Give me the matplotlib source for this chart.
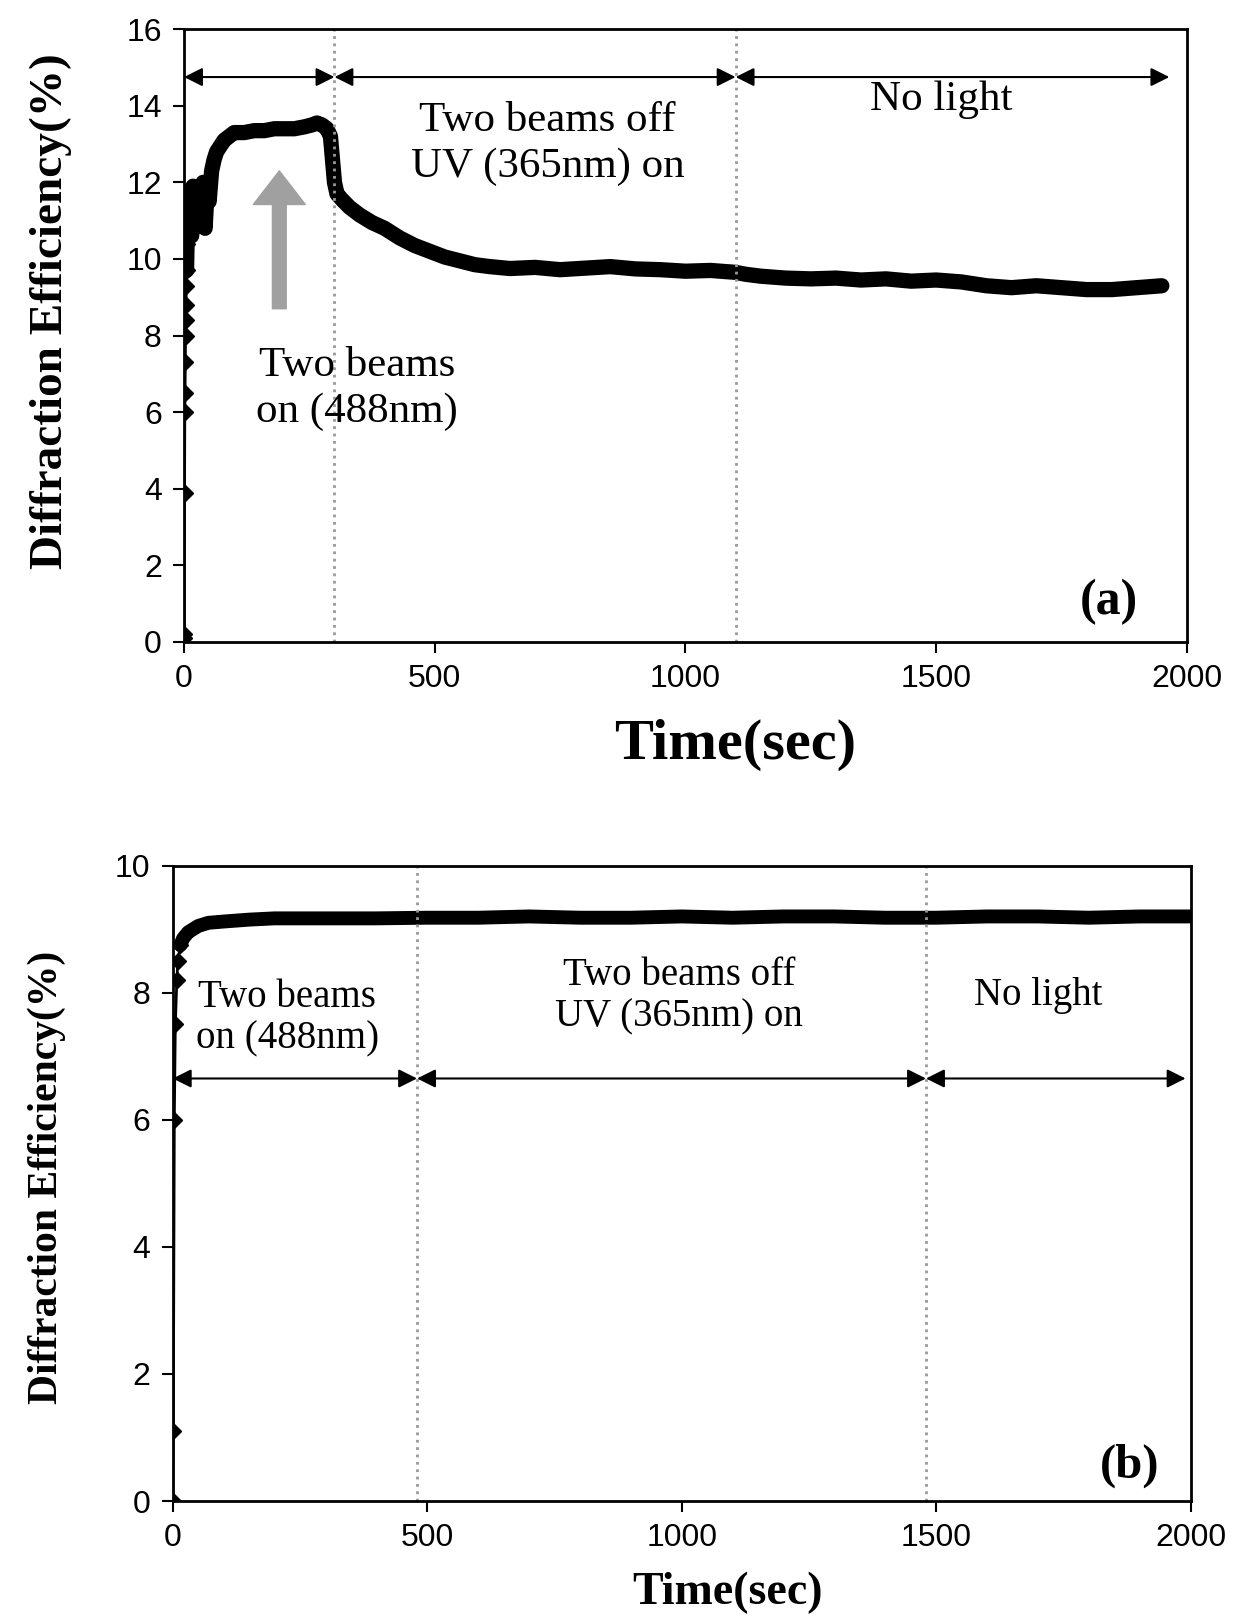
import matplotlib
matplotlib.use("Agg")
import matplotlib.pyplot as plt

# panel (a) data
t_a = [0, 0.5, 1, 1.5, 2, 2.5, 3, 3.5, 4, 4.5, 5, 6, 7, 8, 10, 12, 15, 18, 20, 23, 26, 30,
       34, 38, 42, 46, 50, 55, 60, 65, 70, 80, 90, 100, 120, 140, 160, 180, 200, 220, 240,
       255, 265, 275, 285, 292, 296, 300, 305, 315, 330, 350, 375, 400, 430, 460, 490, 520,
       550, 580, 610, 650, 700, 750, 800, 850, 900, 950, 1000, 1050, 1100, 1120, 1150, 1200,
       1250, 1300, 1350, 1400, 1450, 1500, 1550, 1600, 1650, 1700, 1750, 1800, 1850, 1900, 1950]
de_a = [0.1, 0.2, 3.9, 6.0, 6.5, 7.3, 8.0, 8.4, 8.8, 9.3, 9.7, 10.4, 10.9, 11.5, 11.0, 11.8,
        10.6, 11.9, 10.8, 11.6, 10.9, 11.9, 11.1, 12.0, 10.8, 11.8, 11.5, 12.3, 12.6, 12.8,
        12.9, 13.1, 13.2, 13.3, 13.3, 13.35, 13.35, 13.4, 13.4, 13.4, 13.45, 13.5, 13.55,
        13.5, 13.4, 13.2, 12.6, 12.0, 11.7, 11.55, 11.35, 11.15, 10.95, 10.8, 10.55, 10.35,
        10.2, 10.05, 9.95, 9.85, 9.8, 9.75, 9.78, 9.72, 9.76, 9.8, 9.74, 9.72, 9.68, 9.7,
        9.65, 9.6, 9.55, 9.5, 9.48, 9.5, 9.45, 9.48, 9.42, 9.45, 9.4, 9.3, 9.25, 9.3, 9.25,
        9.2, 9.2, 9.25, 9.3]

# panel (b) data
t_b = [0, 1, 3, 5, 8, 10, 15, 20, 30, 40, 50, 70, 100, 150, 200, 300, 400, 500, 600, 700,
       800, 900, 1000, 1100, 1200, 1300, 1400, 1500, 1600, 1700, 1800, 1900, 2000]
de_b = [0.0, 1.1, 6.0, 7.5, 8.2, 8.5, 8.75, 8.85, 8.95, 9.0, 9.05, 9.1, 9.12, 9.15, 9.17,
        9.17, 9.17, 9.18, 9.18, 9.2, 9.18, 9.18, 9.2, 9.18, 9.2, 9.2, 9.18, 9.18, 9.2, 9.2,
        9.18, 9.2, 9.2]

switch_a = [300, 1100]
switch_b = [480, 1480]

serif = ['Liberation Serif', 'DejaVu Serif']
tickfont = ['Liberation Sans', 'DejaVu Sans']

fig = plt.figure(figsize=(12.52, 16.21), dpi=100)
ax1 = fig.add_axes([0.147, 0.604, 0.801, 0.378])
ax2 = fig.add_axes([0.138, 0.074, 0.813, 0.392])


def style(ax, ymax, ystep):
    ax.set_xlim(0, 2000)
    ax.set_ylim(0, ymax)
    ax.set_xticks([0, 500, 1000, 1500, 2000])
    ax.set_yticks(range(0, ymax + 1, ystep))
    ax.tick_params(direction='out', length=8, width=1.5, labelsize=23, pad=8)
    for lab in ax.get_xticklabels() + ax.get_yticklabels():
        lab.set_family(tickfont)
    for s in ax.spines.values():
        s.set_linewidth(2)


# ---- (a)
style(ax1, 16, 2)
ax1.plot(t_a[:12], de_a[:12], color='k', lw=2, marker='D', ms=8)
ax1.plot(t_a[10:], de_a[10:], color='k', lw=11, solid_capstyle='round')
for x in switch_a:
    ax1.axvline(x, color='#999999', ls=':', lw=2)

ya = 14.75
for x0, x1 in [(0, 300), (300, 1100), (1100, 1965)]:
    ax1.annotate('', xy=(x1, ya), xytext=(x0, ya),
                 arrowprops=dict(arrowstyle='<|-|>', color='k', lw=1.5, mutation_scale=28,
                                 shrinkA=0, shrinkB=0))
ax1.annotate('', xy=(190, 12.3), xytext=(190, 8.7),
             arrowprops=dict(arrowstyle='simple,head_width=1.7,head_length=1.1,tail_width=0.45',
                             color='#a0a0a0', mutation_scale=22, shrinkA=0, shrinkB=0))
ax1.text(725, 13.0, 'Two beams off\nUV (365nm) on', ha='center', va='center',
         fontsize=31, family=serif, linespacing=1.25)
ax1.text(1510, 14.15, 'No light', ha='center', va='center', fontsize=31, family=serif)
ax1.text(345, 6.6, 'Two beams\non (488nm)', ha='center', va='center', fontsize=31,
         family=serif, linespacing=1.25)
ax1.text(1845, 1.05, '(a)', ha='center', va='center', fontsize=36, family=serif,
         fontweight='bold')
ax1.set_xlabel('Time(sec)', fontsize=42, family=serif, fontweight='bold')
ax1.xaxis.set_label_coords(0.55, -0.125)
ax1.set_ylabel('Diffraction Efficiency(%)', fontsize=34, family=serif, fontweight='bold')
ax1.yaxis.set_label_coords(-0.112, 0.54)

# ---- (b)
style(ax2, 10, 2)
ax2.plot(t_b[:7], de_b[:7], color='k', lw=2, marker='D', ms=8)
ax2.plot(t_b[6:], de_b[6:], color='k', lw=10, solid_capstyle='round')
for x in switch_b:
    ax2.axvline(x, color='#999999', ls=':', lw=2)

yb = 6.65
for x0, x1 in [(0, 480), (480, 1480), (1480, 1990)]:
    ax2.annotate('', xy=(x1, yb), xytext=(x0, yb),
                 arrowprops=dict(arrowstyle='<|-|>', color='k', lw=1.5, mutation_scale=28,
                                 shrinkA=0, shrinkB=0))
ax2.text(225, 7.6, 'Two beams\non (488nm)', ha='center', va='center', fontsize=28,
         family=serif, linespacing=1.15)
ax2.text(995, 7.95, 'Two beams off\nUV (365nm) on', ha='center', va='center', fontsize=28,
         family=serif, linespacing=1.15)
ax2.text(1700, 7.95, 'No light', ha='center', va='center', fontsize=28, family=serif)
ax2.text(1880, 0.55, '(b)', ha='center', va='center', fontsize=35, family=serif,
         fontweight='bold')
ax2.set_xlabel('Time(sec)', fontsize=33, family=serif, fontweight='bold')
ax2.xaxis.set_label_coords(0.545, -0.112)
ax2.set_ylabel('Diffraction Efficiency(%)', fontsize=30, family=serif, fontweight='bold')
ax2.yaxis.set_label_coords(-0.105, 0.51)

fig.savefig('out.png', dpi=100)
